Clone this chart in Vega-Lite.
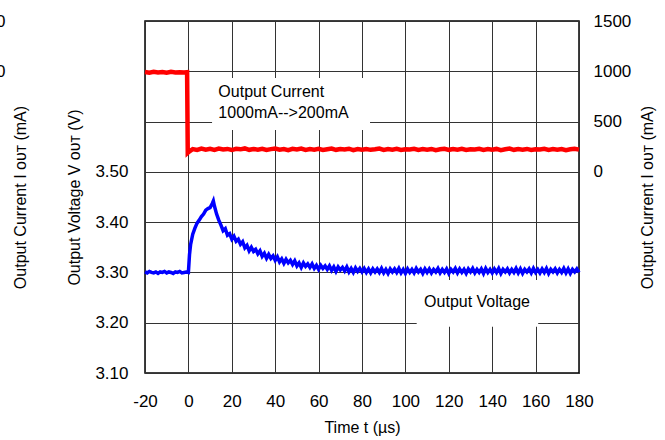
{
  "$schema": "https://vega.github.io/schema/vega-lite/v6.json",
  "width": 434,
  "height": 352,
  "autosize": {"type": "none"},
  "padding": {"left": 145, "top": 21, "right": 86, "bottom": 67},
  "background": "white",
  "config": {
    "font": "Liberation Sans",
    "view": {"stroke": "black", "strokeWidth": 1.5},
    "axis": {
      "labelFont": "Liberation Sans",
      "titleFont": "Liberation Sans",
      "labelFontSize": 17,
      "titleFontSize": 16,
      "titleFontWeight": "normal",
      "labelColor": "black",
      "titleColor": "black",
      "ticks": false,
      "domain": false,
      "gridColor": "#333333",
      "gridWidth": 1,
      "gridOpacity": 1
    }
  },
  "datasets": {
    "voltage": [
      {"t": -20, "v": 3.301}, {"t": -19, "v": 3.299}, {"t": -18, "v": 3.302}, {"t": -17, "v": 3.300}, {"t": -16, "v": 3.299},
      {"t": -15, "v": 3.301}, {"t": -14, "v": 3.298}, {"t": -13, "v": 3.301}, {"t": -12, "v": 3.300}, {"t": -11, "v": 3.302},
      {"t": -10, "v": 3.299}, {"t": -9, "v": 3.301}, {"t": -8, "v": 3.300}, {"t": -7, "v": 3.298}, {"t": -6, "v": 3.301},
      {"t": -5, "v": 3.300}, {"t": -4, "v": 3.302}, {"t": -3, "v": 3.299}, {"t": -2, "v": 3.300}, {"t": -1, "v": 3.301},
      {"t": 0, "v": 3.300}, {"t": 0.5, "v": 3.335}, {"t": 1, "v": 3.355}, {"t": 2, "v": 3.376}, {"t": 3, "v": 3.388},
      {"t": 4, "v": 3.398}, {"t": 5, "v": 3.404}, {"t": 6, "v": 3.411}, {"t": 7, "v": 3.416}, {"t": 8, "v": 3.424},
      {"t": 9, "v": 3.427}, {"t": 10, "v": 3.429}, {"t": 11, "v": 3.437}, {"t": 11.5, "v": 3.442}, {"t": 12, "v": 3.432},
      {"t": 13, "v": 3.416}, {"t": 14, "v": 3.404}, {"t": 15, "v": 3.394}, {"t": 16, "v": 3.383}, {"t": 17, "v": 3.387},
      {"t": 18, "v": 3.374}, {"t": 19, "v": 3.377}, {"t": 20, "v": 3.366}, {"t": 21, "v": 3.372}, {"t": 22, "v": 3.362},
      {"t": 23, "v": 3.366}, {"t": 24, "v": 3.356}, {"t": 25, "v": 3.361}, {"t": 26, "v": 3.349}, {"t": 27, "v": 3.354},
      {"t": 28, "v": 3.343}, {"t": 29, "v": 3.350}, {"t": 30, "v": 3.342}, {"t": 31, "v": 3.346}, {"t": 32, "v": 3.337},
      {"t": 33, "v": 3.343}, {"t": 34, "v": 3.332}, {"t": 35, "v": 3.338}, {"t": 36, "v": 3.328}, {"t": 37, "v": 3.336},
      {"t": 38, "v": 3.328}, {"t": 39, "v": 3.333}, {"t": 40, "v": 3.324}, {"t": 41, "v": 3.331}, {"t": 42, "v": 3.321},
      {"t": 43, "v": 3.327}, {"t": 44, "v": 3.318}, {"t": 45, "v": 3.326}, {"t": 46, "v": 3.319}, {"t": 47, "v": 3.324},
      {"t": 48, "v": 3.316}, {"t": 49, "v": 3.323}, {"t": 50, "v": 3.313}, {"t": 51, "v": 3.319}, {"t": 52, "v": 3.310},
      {"t": 53, "v": 3.319}, {"t": 54, "v": 3.312}, {"t": 55, "v": 3.317}, {"t": 56, "v": 3.310}, {"t": 57, "v": 3.317},
      {"t": 58, "v": 3.308}, {"t": 59, "v": 3.314}, {"t": 60, "v": 3.306}, {"t": 61, "v": 3.314}, {"t": 62, "v": 3.308},
      {"t": 63, "v": 3.313}, {"t": 64, "v": 3.306}, {"t": 65, "v": 3.313}, {"t": 66, "v": 3.304}, {"t": 67, "v": 3.311},
      {"t": 68, "v": 3.302}, {"t": 69, "v": 3.311}, {"t": 70, "v": 3.305}, {"t": 71, "v": 3.310}, {"t": 72, "v": 3.303},
      {"t": 73, "v": 3.311}, {"t": 74, "v": 3.301}, {"t": 75, "v": 3.308}, {"t": 76, "v": 3.300}, {"t": 77, "v": 3.309},
      {"t": 78, "v": 3.302}, {"t": 79, "v": 3.308}, {"t": 80, "v": 3.301}, {"t": 81, "v": 3.308}, {"t": 82, "v": 3.300},
      {"t": 83, "v": 3.307}, {"t": 84, "v": 3.299}, {"t": 85, "v": 3.307}, {"t": 86, "v": 3.301}, {"t": 87, "v": 3.307},
      {"t": 88, "v": 3.300}, {"t": 89, "v": 3.308}, {"t": 90, "v": 3.299}, {"t": 91, "v": 3.306}, {"t": 92, "v": 3.298},
      {"t": 93, "v": 3.307}, {"t": 94, "v": 3.301}, {"t": 95, "v": 3.307}, {"t": 96, "v": 3.300}, {"t": 97, "v": 3.308},
      {"t": 98, "v": 3.299}, {"t": 99, "v": 3.306}, {"t": 100, "v": 3.298}, {"t": 101, "v": 3.307}, {"t": 102, "v": 3.300},
      {"t": 103, "v": 3.306}, {"t": 104, "v": 3.299}, {"t": 105, "v": 3.308}, {"t": 106, "v": 3.301}, {"t": 107, "v": 3.306},
      {"t": 108, "v": 3.298}, {"t": 109, "v": 3.307}, {"t": 110, "v": 3.300}, {"t": 111, "v": 3.307}, {"t": 112, "v": 3.299},
      {"t": 113, "v": 3.306}, {"t": 114, "v": 3.301}, {"t": 115, "v": 3.308}, {"t": 116, "v": 3.299}, {"t": 117, "v": 3.306},
      {"t": 118, "v": 3.300}, {"t": 119, "v": 3.307}, {"t": 120, "v": 3.298}, {"t": 121, "v": 3.306}, {"t": 122, "v": 3.301},
      {"t": 123, "v": 3.308}, {"t": 124, "v": 3.299}, {"t": 125, "v": 3.307}, {"t": 126, "v": 3.300}, {"t": 127, "v": 3.306},
      {"t": 128, "v": 3.298}, {"t": 129, "v": 3.307}, {"t": 130, "v": 3.301}, {"t": 131, "v": 3.308}, {"t": 132, "v": 3.299},
      {"t": 133, "v": 3.306}, {"t": 134, "v": 3.300}, {"t": 135, "v": 3.307}, {"t": 136, "v": 3.298}, {"t": 137, "v": 3.308},
      {"t": 138, "v": 3.300}, {"t": 139, "v": 3.306}, {"t": 140, "v": 3.299}, {"t": 141, "v": 3.307}, {"t": 142, "v": 3.300},
      {"t": 143, "v": 3.308}, {"t": 144, "v": 3.298}, {"t": 145, "v": 3.306}, {"t": 146, "v": 3.301}, {"t": 147, "v": 3.307},
      {"t": 148, "v": 3.299}, {"t": 149, "v": 3.306}, {"t": 150, "v": 3.300}, {"t": 151, "v": 3.308}, {"t": 152, "v": 3.299},
      {"t": 153, "v": 3.307}, {"t": 154, "v": 3.298}, {"t": 155, "v": 3.306}, {"t": 156, "v": 3.301}, {"t": 157, "v": 3.307},
      {"t": 158, "v": 3.299}, {"t": 159, "v": 3.308}, {"t": 160, "v": 3.300}, {"t": 161, "v": 3.306}, {"t": 162, "v": 3.299},
      {"t": 163, "v": 3.307}, {"t": 164, "v": 3.300}, {"t": 165, "v": 3.308}, {"t": 166, "v": 3.298}, {"t": 167, "v": 3.306},
      {"t": 168, "v": 3.301}, {"t": 169, "v": 3.307}, {"t": 170, "v": 3.299}, {"t": 171, "v": 3.306}, {"t": 172, "v": 3.300},
      {"t": 173, "v": 3.308}, {"t": 174, "v": 3.299}, {"t": 175, "v": 3.307}, {"t": 176, "v": 3.298}, {"t": 177, "v": 3.306},
      {"t": 178, "v": 3.301}, {"t": 179, "v": 3.307}, {"t": 180, "v": 3.300}
    ],
    "current": [
      {"t": -20, "i": 992}, {"t": -18, "i": 985}, {"t": -16, "i": 995}, {"t": -14, "i": 988}, {"t": -12, "i": 993},
      {"t": -10, "i": 986}, {"t": -8, "i": 994}, {"t": -6, "i": 989}, {"t": -4, "i": 991}, {"t": -2, "i": 987},
      {"t": -0.6, "i": 990}, {"t": -0.3, "i": 190}, {"t": 0.5, "i": 205}, {"t": 2, "i": 226}, {"t": 4, "i": 218},
      {"t": 6, "i": 232}, {"t": 8, "i": 220}, {"t": 10, "i": 229}, {"t": 12, "i": 219}, {"t": 14, "i": 231},
      {"t": 16, "i": 222}, {"t": 18, "i": 228}, {"t": 20, "i": 217}, {"t": 22, "i": 230}, {"t": 24, "i": 224},
      {"t": 26, "i": 233}, {"t": 28, "i": 219}, {"t": 30, "i": 227}, {"t": 32, "i": 221}, {"t": 34, "i": 229},
      {"t": 36, "i": 218}, {"t": 38, "i": 226}, {"t": 40, "i": 232}, {"t": 42, "i": 220}, {"t": 44, "i": 227},
      {"t": 46, "i": 216}, {"t": 48, "i": 229}, {"t": 50, "i": 223}, {"t": 52, "i": 231}, {"t": 54, "i": 218},
      {"t": 56, "i": 226}, {"t": 58, "i": 221}, {"t": 60, "i": 229}, {"t": 62, "i": 217}, {"t": 64, "i": 225},
      {"t": 66, "i": 232}, {"t": 68, "i": 219}, {"t": 70, "i": 227}, {"t": 72, "i": 222}, {"t": 74, "i": 230},
      {"t": 76, "i": 216}, {"t": 78, "i": 226}, {"t": 80, "i": 221}, {"t": 82, "i": 228}, {"t": 84, "i": 219},
      {"t": 86, "i": 224}, {"t": 88, "i": 231}, {"t": 90, "i": 218}, {"t": 92, "i": 226}, {"t": 94, "i": 220},
      {"t": 96, "i": 229}, {"t": 98, "i": 217}, {"t": 100, "i": 225}, {"t": 102, "i": 222}, {"t": 104, "i": 230},
      {"t": 106, "i": 218}, {"t": 108, "i": 226}, {"t": 110, "i": 221}, {"t": 112, "i": 228}, {"t": 114, "i": 216},
      {"t": 116, "i": 224}, {"t": 118, "i": 230}, {"t": 120, "i": 219}, {"t": 122, "i": 227}, {"t": 124, "i": 221},
      {"t": 126, "i": 229}, {"t": 128, "i": 217}, {"t": 130, "i": 225}, {"t": 132, "i": 222}, {"t": 134, "i": 229},
      {"t": 136, "i": 218}, {"t": 138, "i": 226}, {"t": 140, "i": 220}, {"t": 142, "i": 228}, {"t": 144, "i": 216},
      {"t": 146, "i": 224}, {"t": 148, "i": 231}, {"t": 150, "i": 219}, {"t": 152, "i": 226}, {"t": 154, "i": 221},
      {"t": 156, "i": 228}, {"t": 158, "i": 217}, {"t": 160, "i": 225}, {"t": 162, "i": 222}, {"t": 164, "i": 229},
      {"t": 166, "i": 218}, {"t": 168, "i": 226}, {"t": 170, "i": 220}, {"t": 172, "i": 227}, {"t": 174, "i": 216},
      {"t": 176, "i": 224}, {"t": 178, "i": 230}, {"t": 180, "i": 221}
    ],
    "vbox": [{"t": 105.2, "t2": 161.2, "v": 3.285, "v2": 3.192}],
    "vlabel": [{"t": 133, "v": 3.232, "label": "Output Voltage"}],
    "ibox": [{"t": 10.9, "t2": 83.7, "i": 934, "i2": 417}],
    "ilabel": [
      {"t": 13.8, "i": 748, "label": "Output Current"},
      {"t": 13.8, "i": 539, "label": "1000mA-->200mA"}
    ]
  },
  "encoding": {
    "x": {
      "field": "t",
      "type": "quantitative",
      "scale": {"domain": [-20, 180], "nice": false, "zero": false},
      "axis": {
        "values": [-20, 0, 20, 40, 60, 80, 100, 120, 140, 160, 180],
        "labelExpr": "'' + datum.value",
        "grid": true,
        "labelPadding": 20,
        "title": "Time t (µs)",
        "titlePadding": 10,
        "labelFlush": false
      }
    }
  },
  "layer": [
    {
      "encoding": {
        "y": {
          "field": "v",
          "type": "quantitative",
          "scale": {"domain": [3.1, 3.8], "nice": false, "zero": false},
          "axis": {
            "orient": "left",
            "values": [3.1, 3.2, 3.3, 3.4, 3.5, 3.6, 3.7, 3.8],
            "labelExpr": "datum.value > 3.55 ? '' : format(datum.value, '.2f')",
            "grid": true,
            "labelPadding": 17,
            "labelFlush": false,
            "title": "Output Voltage V ᴏᴜᴛ (V)",
            "titlePadding": 12
          }
        }
      },
      "layer": [
        {
          "data": {"name": "vbox"},
          "mark": {"type": "rect", "fill": "white", "stroke": null},
          "encoding": {"x2": {"field": "t2"}, "y2": {"field": "v2"}}
        },
        {
          "data": {"name": "voltage"},
          "mark": {"type": "line", "color": "#0000ff", "strokeWidth": 3.5, "interpolate": "linear"}
        },
        {
          "data": {"name": "vlabel"},
          "mark": {"type": "text", "fontSize": 16, "font": "Liberation Sans", "align": "center", "baseline": "alphabetic", "color": "black"},
          "encoding": {"text": {"field": "label"}}
        }
      ]
    },
    {
      "encoding": {
        "y": {
          "field": "i",
          "type": "quantitative",
          "scale": {"domain": [-2000, 1500], "nice": false, "zero": false},
          "axis": {
            "orient": "right",
            "values": [0, 500, 1000, 1500],
            "format": "d",
            "grid": false,
            "labelPadding": 14,
            "labelFlush": false,
            "title": "Output Current I ᴏᴜᴛ (mA)",
            "titleAngle": -90,
            "titleBaseline": "bottom",
            "titleX": 76,
            "titleY": 176
          }
        }
      },
      "layer": [
        {
          "data": {"name": "ibox"},
          "mark": {"type": "rect", "fill": "white", "stroke": null},
          "encoding": {"x2": {"field": "t2"}, "y2": {"field": "i2"}}
        },
        {
          "data": {"name": "current"},
          "mark": {"type": "line", "color": "#ff0000", "strokeWidth": 4.5, "interpolate": "linear"}
        },
        {
          "data": {"name": "ilabel"},
          "mark": {"type": "text", "fontSize": 16, "font": "Liberation Sans", "align": "left", "baseline": "alphabetic", "color": "black"},
          "encoding": {"text": {"field": "label"}}
        }
      ]
    },
    {
      "data": {"name": "ilabel"},
      "mark": {"type": "point", "opacity": 0},
      "encoding": {
        "y": {
          "field": "i",
          "type": "quantitative",
          "scale": {"domain": [-2000, 1500], "nice": false, "zero": false},
          "axis": {
            "orient": "left",
            "offset": 140,
            "values": [1000, 1500],
            "format": "d",
            "grid": false,
            "labelPadding": 0,
            "labelFlush": false,
            "title": "Output Current I ᴏᴜᴛ (mA)",
            "titleX": 23,
            "titleY": 176
          }
        }
      }
    }
  ],
  "resolve": {"scale": {"y": "independent"}, "axis": {"y": "independent"}}
}
